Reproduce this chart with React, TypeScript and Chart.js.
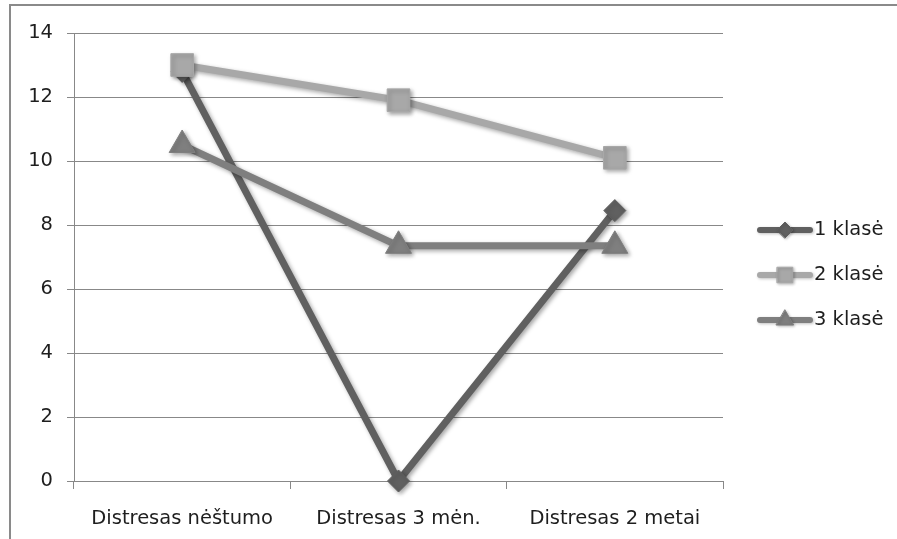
import React, { useEffect, useRef } from 'react';
import { Chart, registerables } from 'chart.js';
import { drawPoint } from 'chart.js/helpers';

Chart.register(...registerables);

const categories = ['Distresas nėštumo', 'Distresas 3 mėn.', 'Distresas 2 metai'];
const seriesNames = ['1 klasė', '2 klasė', '3 klasė'];
const klase1 = [12.8, 0, 8.45];
const klase2 = [13, 11.9, 10.1];
const klase3 = [10.5, 7.35, 7.35];
const yMin = 0;
const yMax = 14;
const yStep = 2;

const FONT = '"DejaVu Sans", "Open Sans", sans-serif';
const FONT_SIZE = 19.5;
const TEXT = '#1e1e1e';
const GRID = '#888888';

const seriesStyles = [
  { color: '#606060', pointStyle: 'rectRot', radius: 11, legendRadius: 8 },
  { color: '#a8a8a8', pointStyle: 'rect', radius: 16, legendRadius: 11 },
  { color: '#7f7f7f', pointStyle: 'triangle', radius: 15, legendRadius: 10 },
];

// Soft drop shadow under each series' line and markers
const shadowPlugin = {
  id: 'seriesShadow',
  beforeDatasetDraw(chart: any) {
    const ctx = chart.ctx;
    ctx.save();
    ctx.shadowColor = 'rgba(0,0,0,0.35)';
    ctx.shadowBlur = 4;
    ctx.shadowOffsetX = 2;
    ctx.shadowOffsetY = 2;
  },
  afterDatasetDraw(chart: any) {
    chart.ctx.restore();
  },
};

// Outer frame lines along the top and left edges
const framePlugin = {
  id: 'frame',
  beforeDraw(chart: any) {
    const ctx = chart.ctx;
    ctx.save();
    ctx.strokeStyle = '#8a8a8a';
    ctx.lineWidth = 2;
    ctx.beginPath();
    ctx.moveTo(10, chart.height);
    ctx.lineTo(10, 5);
    ctx.lineTo(chart.width, 5);
    ctx.stroke();
    ctx.restore();
  },
};

// Legend on the right: line sample with the series marker in the middle
const legendPlugin = {
  id: 'sideLegend',
  afterDraw(chart: any) {
    const ctx = chart.ctx;
    chart.data.datasets.forEach((ds: any, i: number) => {
      const st = seriesStyles[i];
      const y = 230 + 45 * i;
      ctx.save();
      ctx.shadowColor = 'rgba(0,0,0,0.25)';
      ctx.shadowBlur = 3;
      ctx.shadowOffsetX = 1;
      ctx.shadowOffsetY = 1;
      ctx.strokeStyle = st.color;
      ctx.lineWidth = 6;
      ctx.lineCap = 'round';
      ctx.beginPath();
      ctx.moveTo(760, y);
      ctx.lineTo(810, y);
      ctx.stroke();
      ctx.fillStyle = st.color;
      ctx.lineWidth = 1;
      drawPoint(ctx, { pointStyle: st.pointStyle as any, radius: st.legendRadius, rotation: 0, borderWidth: 1 }, 785, y);
      ctx.restore();
      ctx.save();
      ctx.fillStyle = TEXT;
      ctx.font = `${FONT_SIZE}px ${FONT}`;
      ctx.textAlign = 'left';
      ctx.textBaseline = 'middle';
      ctx.fillText(ds.label, 814, y);
      ctx.restore();
    });
  },
};

export default function App() {
  const canvasRef = useRef<HTMLCanvasElement | null>(null);

  useEffect(() => {
    const canvas = canvasRef.current;
    if (!canvas) return;
    const values = [klase1, klase2, klase3];
    const chart = new Chart(canvas, {
      type: 'line',
      data: {
        labels: categories,
        datasets: values.map((data, i) => ({
          label: seriesNames[i],
          data,
          // later series are painted over earlier ones
          order: values.length - i,
          clip: false,
          borderColor: seriesStyles[i].color,
          backgroundColor: seriesStyles[i].color,
          pointBackgroundColor: seriesStyles[i].color,
          pointBorderColor: seriesStyles[i].color,
          pointStyle: seriesStyles[i].pointStyle as any,
          pointRadius: seriesStyles[i].radius,
          pointHoverRadius: seriesStyles[i].radius,
          pointBorderWidth: 1,
          borderWidth: 7,
          borderCapStyle: 'round',
          borderJoinStyle: 'round',
          tension: 0,
          fill: false,
        })),
      },
      options: {
        responsive: false,
        animation: false,
        layout: { padding: { left: 0, top: 33, right: 174, bottom: 0 } },
        plugins: {
          legend: { display: false },
          tooltip: { enabled: false },
        },
        scales: {
          x: {
            offset: true,
            grid: {
              display: true,
              offset: true,
              drawOnChartArea: false,
              drawTicks: true,
              tickLength: 8,
              color: GRID,
              lineWidth: 1,
            },
            border: { display: true, color: GRID, width: 1 },
            ticks: {
              color: TEXT,
              font: { family: FONT, size: FONT_SIZE },
              padding: 18,
              maxRotation: 0,
              autoSkip: false,
            },
            afterFit(scale: any) {
              scale.height = 58;
            },
          },
          y: {
            min: yMin,
            max: yMax,
            grid: {
              color: GRID,
              lineWidth: 1,
              drawTicks: true,
              tickLength: 7,
            },
            border: { display: true, color: GRID, width: 1 },
            ticks: {
              stepSize: yStep,
              color: TEXT,
              font: { family: FONT, size: FONT_SIZE },
              padding: 14,
            },
            afterFit(scale: any) {
              scale.width = 74;
            },
          },
        },
      },
      plugins: [framePlugin, shadowPlugin, legendPlugin],
    });
    return () => chart.destroy();
  }, []);

  return (
    <div style={{ position: 'fixed', left: 0, top: 0, width: 897, height: 539, background: '#ffffff' }}>
      <canvas ref={canvasRef} width={897} height={539} style={{ display: 'block' }} />
    </div>
  );
}
